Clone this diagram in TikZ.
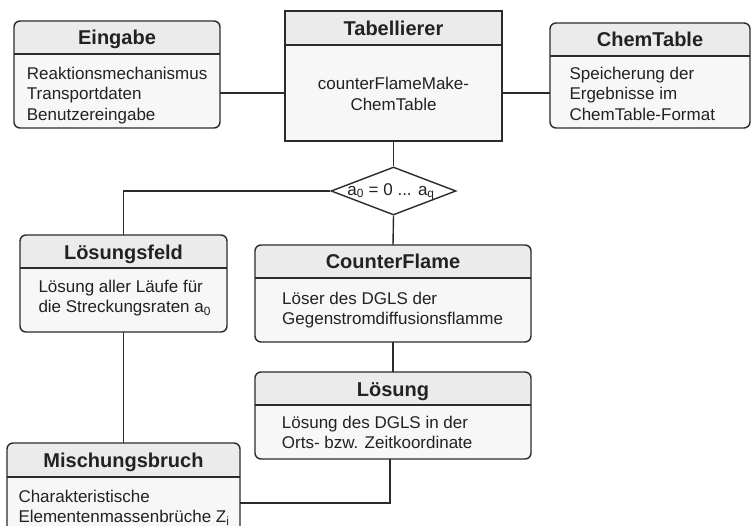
\documentclass[tikz,border=0pt]{standalone}
\usepackage{fontspec}
\setmainfont{Liberation Sans}
\usetikzlibrary{shapes.geometric}

\definecolor{linecol}{HTML}{2B2B2B}
\definecolor{headfill}{HTML}{EBEBEB}
\definecolor{bodyfill}{HTML}{F7F7F7}
\definecolor{textcol}{HTML}{222222}

\tikzset{
  frame/.style={draw=linecol, line width=1.4pt},
  link/.style={draw=linecol, line width=1.4pt},
  boxnode/.style={inner sep=0pt, outer sep=0pt},
  title/.style={font=\fontsize{20}{24}\selectfont\bfseries, text=textcol, inner sep=0pt},
  body/.style={font=\fontsize{17}{20.5}\selectfont, text=textcol, align=left,
    inner sep=0pt, anchor=north west},
}

% class box: name, x1, y1, x2, y2, y of the title rule, corner radius, title
\newcommand\umlklasse[8]{%
  \node[boxnode, minimum width={#4-#2}, minimum height={#5-#3}] (#1)
    at ({(#2+#4)/2},{(#3+#5)/2}) {};
  \fill[bodyfill, rounded corners=#7] (#1.north west) rectangle (#1.south east);
  \begin{scope}
    \clip[rounded corners=#7] (#1.north west) rectangle (#1.south east);
    \fill[headfill] (#1.north west) rectangle (#4,#6);
  \end{scope}
  \draw[frame] (#2,#6) -- (#4,#6);
  \draw[frame, rounded corners=#7] (#1.north west) rectangle (#1.south east);
  \node[title, anchor=base] (#1-title) at ({(#2+#4)/2},{(#3+#6)/2+7.5}) {#8};
}

\begin{document}
\begin{tikzpicture}[x=1pt, y=-1pt]
  \fill[white] (0,0) rectangle (751,526);
  \useasboundingbox (0,0) rectangle (751,526);

  % classes
  \umlklasse{ein}{14}{21}{220}{128}{54}{6pt}{Eingabe}
  \node[body] (ein-body) at (26.7,66.5)
    {Reaktionsmechanismus\\Transportdaten\\Benutzereingabe};

  \umlklasse{tab}{285}{11}{502}{141}{45}{0pt}{Tabellierer}
  \node[body, align=center, anchor=north] (tab-body) at (393.5,77)
    {counterFlameMake-\\ChemTable};

  \umlklasse{chem}{550}{23}{750}{128}{56}{6pt}{ChemTable}
  \node[body] (chem-body) at (569.3,66.5)
    {Speicherung der\\Ergebnisse im\\ChemTable-Format};

  \umlklasse{lsf}{20}{235}{227}{332}{268}{6pt}{Lösungsfeld}
  \node[body] (lsf-body) at (38.3,279.5)
    {Lösung aller Läufe für\\die Streckungsraten a\textsubscript{0}};

  \umlklasse{cf}{255}{245}{531}{342}{278}{6pt}{CounterFlame}
  \node[body] (cf-body) at (282,291.5)
    {Löser des DGLS der\\Gegenstromdiffusionsflamme};

  \umlklasse{los}{255}{372}{531}{459}{405}{6pt}{Lösung}
  \node[body] (los-body) at (281.7,415.5)
    {Lösung des DGLS in der\\Orts- bzw. Zeitkoordinate};

  \umlklasse{mis}{7}{443}{240}{532}{477}{6pt}{Mischungsbruch}
  \node[body, font=\fontsize{17}{20}\selectfont] (mis-body) at (18.3,490)
    {Charakteristische\\Elementenmassenbrüche Z\textsubscript{i}};

  % loop over the strain rates
  \node[diamond, draw=linecol, line width=1.4pt, fill=white, inner sep=0pt,
    minimum width=125pt, minimum height=48pt] (dec) at (393.5,191) {};
  \node[font=\fontsize{17}{20}\selectfont, text=textcol, inner sep=0pt] (dec-text)
    at (391,192) {a\textsubscript{0} = 0 ... a\textsubscript{q}};

  % connectors
  \draw[link] (ein.east |- 0,93) -- (tab.west |- 0,93);
  \draw[link] (tab.east |- 0,93) -- (chem.west |- 0,93);
  \draw[link] (tab.south) -- (dec.north);
  \draw[link] (dec.west) -| (lsf.north);
  \draw[link] (dec.south) -- (cf.north);
  \draw[link] (cf.south) -- (los.north);
  \draw[link] (lsf.south) -- (mis.north);
  \draw[link] ([xshift=-3pt]los.south) |- (mis.east |- 0,503);
\end{tikzpicture}
\end{document}
